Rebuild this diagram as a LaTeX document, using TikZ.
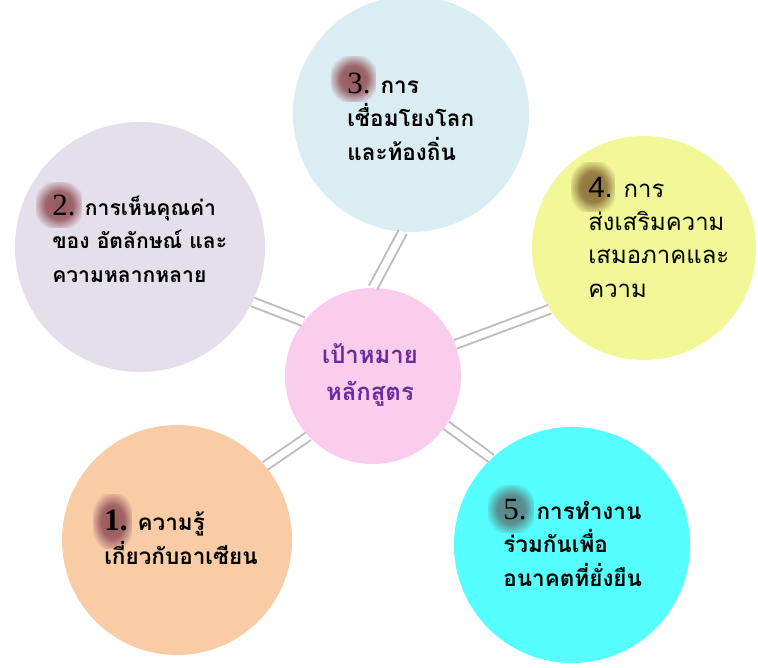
\documentclass[tikz,border=0pt]{standalone}
\usepackage{fontspec}
\newfontfamily\thaifont[Script=Thai]{Loma}
\newfontfamily\serifdigits{Liberation Serif}
\newfontfamily\sansdigits{Liberation Sans}
\usetikzlibrary{fadings}

\definecolor{goalpink}{HTML}{F9CDEB}
\definecolor{linkgray}{HTML}{BDBDBD}
\definecolor{linkblue}{HTML}{DAEDF3}
\definecolor{identlav}{HTML}{E5DFEC}
\definecolor{equalyel}{HTML}{F2F797}
\definecolor{aseanpeach}{HTML}{F9CCA6}
\definecolor{futurecyan}{HTML}{55FFFF}
\definecolor{goalpurple}{HTML}{6A2C9E}
\definecolor{glowred}{HTML}{96585E}
\definecolor{glowolive}{HTML}{8E733E}
\definecolor{glowteal}{HTML}{5A8484}

\pgfdeclareradialshading{glowshade}{\pgfpointorigin}{color(0bp)=(pgftransparent!0);
   color(15bp)=(pgftransparent!10); color(28.4bp)=(pgftransparent!100)}
\pgfdeclarefading{softglow}{\pgfuseshading{glowshade}}

\newcommand\numtag[1]{{\serifdigits\mdseries\fontsize{22}{24}\selectfont #1}}

\begin{document}
\begin{tikzpicture}[x=0.025cm,y=-0.025cm,
   blob/.style={circle,inner sep=0pt},
   link/.style={draw=linkgray,line width=1.4pt,double=white,double distance=5pt},
   txt/.style={anchor=base west,align=left,inner sep=0pt,
      font=\thaifont\bfseries\fontsize{16}{23.5}\selectfont},
   glow/.style={path fading=softglow}]
\useasboundingbox (0,0) rectangle (758,667);

% circles
\node[blob,fill=goalpink,minimum size=4.4cm] (c) at (373,376) {};
\node[blob,fill=aseanpeach,minimum size=5.75cm] (n1) at (177,540) {};
\node[blob,fill=identlav,minimum size=6.25cm] (n2) at (140,247) {};
\node[blob,fill=linkblue,minimum size=5.9cm] (n3) at (411,114) {};
\node[blob,fill=equalyel,minimum size=5.6cm] (n4) at (644,248) {};
\node[blob,fill=futurecyan,minimum size=5.9cm] (n5) at (572,545) {};

% double connectors
\draw[link] (c.142) -- (n2.-26);
\draw[link] (c.90) -- (n3.-94);
\draw[link] (c.21) -- (n4.-147);
\draw[link] (c.-137) -- (n1.40);
\draw[link] (c.-34) -- (n5.133);

% glow behind the numbers
\fill[glowred,glow] (93,494) rectangle (132,549);
\fill[glowred,glow] (36,182) rectangle (82,228);
\fill[glowred,glow] (331,56) rectangle (376,102);
\fill[glowolive,glow] (571,162) rectangle (615,212);
\fill[glowteal,glow] (488,485) rectangle (534,533);

% texts (placed at the baseline of the last line)
\node[txt] (t1) at (104,564) {{\serifdigits\bfseries\fontsize{22}{24}\selectfont 1.} ความรู้\\เกี่ยวกับอาเซียน};
\node[txt,font=\thaifont\bfseries\fontsize{15}{23.5}\selectfont] (t2) at (52,282) {\numtag{2.} การเห็นคุณค่า\\ของ อัตลักษณ์ และ\\ความหลากหลาย};
\node[txt] (t3) at (347,160) {\numtag{3.} การ\\เชื่อมโยงโลก\\และท้องถิ่น};
\node[txt,font=\thaifont\fontsize{17}{23.5}\selectfont] (t4) at (588,297) {{\sansdigits\fontsize{21}{24}\selectfont 4.} การ\\ส่งเสริมความ\\เสมอภาคและ\\ความ};
\node[txt] (t5) at (503,586) {\numtag{5.} การทำงาน\\ร่วมกันเพื่อ\\อนาคตที่ยั่งยืน};
\node[anchor=base,align=center,inner sep=0pt,text=goalpurple,
   font=\thaifont\bfseries\fontsize{17}{26}\selectfont] (goal) at (370,400) {เป้าหมาย\\หลักสูตร};
\end{tikzpicture}
\end{document}
